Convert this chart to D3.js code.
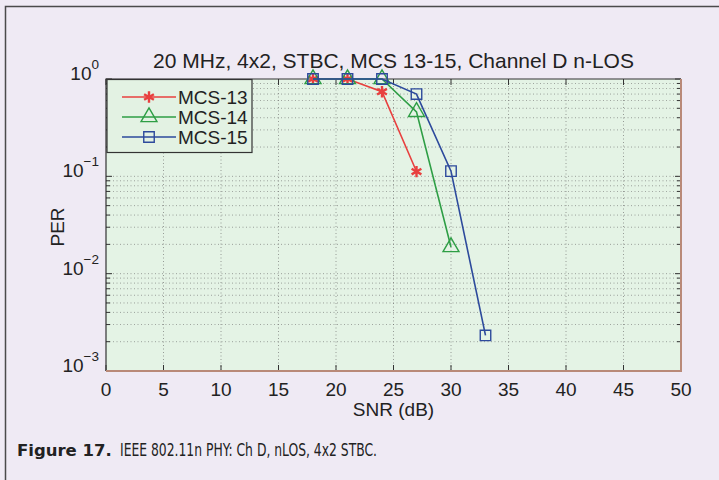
<!DOCTYPE html>
<html>
<head>
<meta charset="utf-8">
<script src="https://cdn.jsdelivr.net/npm/d3@7"></script>
<style>
  html, body { margin: 0; padding: 0; background: #efeaf4; }
  svg { display: block; }
</style>
</head>
<body>
<svg id="chart" width="719" height="480"></svg>
<script>
// SNR sweep points (dB) and packet error rate per MCS
const snr13 = [18, 21, 24, 27];
const per13 = [1.0, 1.0, 0.74, 0.112];
const snr14 = [18, 21, 24, 27, 30];
const per14 = [1.0, 1.0, 1.0, 0.46, 0.0188];
const snr15 = [18, 21, 24, 27, 30, 33];
const per15 = [1.0, 1.0, 1.0, 0.70, 0.113, 0.00232];

const seriesNames = ["MCS-13", "MCS-14", "MCS-15"];
const xTicks = [0, 5, 10, 15, 20, 25, 30, 35, 40, 45, 50];
const yTickExponents = [0, -1, -2, -3];
const titleText = "20 MHz, 4x2, STBC, MCS 13-15, Channel D n-LOS";
const xLabel = "SNR (dB)";
const yLabel = "PER";
const captionBold = "Figure 17.";
const captionRest = "IEEE 802.11n PHY: Ch D, nLOS, 4x2 STBC.";

const series = [
  { name: seriesNames[0], x: snr13, y: per13, color: "#e8403f", symbol: d3.symbolAsterisk },
  { name: seriesNames[1], x: snr14, y: per14, color: "#2e9e45", symbol: d3.symbolTriangle },
  { name: seriesNames[2], x: snr15, y: per15, color: "#2d4a9c", symbol: d3.symbolSquare }
];

const svg = d3.select("#chart");
const font = "'Liberation Sans', Arial, Helvetica, sans-serif";

// outer frame (top and left rules)
svg.append("path")
  .attr("d", "M5.5,480 V6.5 H719")
  .attr("fill", "none").attr("stroke", "#4a4a4a").attr("stroke-width", 1.5);

const plot = { left: 106, right: 681, top: 79, bottom: 371 };
const x = d3.scaleLinear().domain([0, 50]).range([plot.left, plot.right]);
const y = d3.scaleLog().domain([1e-3, 1]).range([plot.bottom, plot.top]);

// plot background
svg.append("rect")
  .attr("x", plot.left).attr("y", plot.top)
  .attr("width", plot.right - plot.left).attr("height", plot.bottom - plot.top)
  .attr("fill", "#e4f3e5");

const grid = svg.append("g");
// vertical grid at major x ticks
grid.selectAll("line.vx").data(xTicks.slice(1, -1)).join("line")
  .attr("x1", d => x(d)).attr("x2", d => x(d))
  .attr("y1", plot.top).attr("y2", plot.bottom)
  .attr("stroke", "#6a6a6a").attr("stroke-width", 0.8)
  .attr("stroke-dasharray", "1,2.5").attr("opacity", 0.8);

// horizontal grid: decades and minor log positions
const minorVals = [];
for (let e = -3; e < 0; e++) {
  for (let m = 2; m <= 9; m++) minorVals.push(m * Math.pow(10, e));
}
const majorVals = yTickExponents.map(e => Math.pow(10, e));
grid.selectAll("line.hy").data(minorVals.concat(majorVals.slice(1, -1))).join("line")
  .attr("x1", plot.left).attr("x2", plot.right)
  .attr("y1", d => y(d)).attr("y2", d => y(d))
  .attr("stroke", "#6a6a6a").attr("stroke-width", 0.8)
  .attr("stroke-dasharray", "1,2.5").attr("opacity", 0.75);

// tick marks (inside, on all four sides)
const ticks = svg.append("g").attr("stroke", "#333").attr("stroke-width", 1);
xTicks.forEach(t => {
  ticks.append("line").attr("x1", x(t)).attr("x2", x(t)).attr("y1", plot.bottom).attr("y2", plot.bottom - 6);
  ticks.append("line").attr("x1", x(t)).attr("x2", x(t)).attr("y1", plot.top).attr("y2", plot.top + 6);
});
majorVals.concat(minorVals).forEach(v => {
  const len = majorVals.includes(v) ? 6 : 4;
  ticks.append("line").attr("x1", plot.left).attr("x2", plot.left + len).attr("y1", y(v)).attr("y2", y(v));
  ticks.append("line").attr("x1", plot.right).attr("x2", plot.right - len).attr("y1", y(v)).attr("y2", y(v));
});

// plot border: dark top/left, warm-toned bottom/right
svg.append("path")
  .attr("d", `M${plot.left},${plot.bottom} V${plot.top} H${plot.right}`)
  .attr("fill", "none").attr("stroke", "#333").attr("stroke-width", 1.2);
svg.append("path")
  .attr("d", `M${plot.left},${plot.bottom} H${plot.right} V${plot.top}`)
  .attr("fill", "none").attr("stroke", "#b98a78").attr("stroke-width", 2);

// x tick labels
svg.append("g").selectAll("text").data(xTicks).join("text")
  .attr("x", d => x(d)).attr("y", plot.bottom + 25)
  .attr("text-anchor", "middle")
  .attr("font-family", font).attr("font-size", 19).attr("fill", "#222")
  .text(d => d);

// y tick labels as powers of ten
const yl = svg.append("g").selectAll("text").data(yTickExponents).join("text")
  .attr("x", 99).attr("y", d => y(Math.pow(10, d)) + 1)
  .attr("text-anchor", "end")
  .attr("font-family", font).attr("fill", "#222");
yl.append("tspan").attr("font-size", 19).text("10");
yl.append("tspan").attr("font-size", 13.5).attr("dy", -11)
  .text(d => d === 0 ? "0" : "\u2212" + Math.abs(d));

// title and axis labels
svg.append("text")
  .attr("x", (plot.left + plot.right) / 2).attr("y", 68)
  .attr("text-anchor", "middle").attr("font-family", font)
  .attr("font-size", 21).attr("fill", "#222").text(titleText);
svg.append("text")
  .attr("x", (plot.left + plot.right) / 2).attr("y", 416)
  .attr("text-anchor", "middle").attr("font-family", font)
  .attr("font-size", 19).attr("fill", "#222").text(xLabel);
svg.append("text")
  .attr("transform", `translate(64,${(plot.top + plot.bottom) / 2 + 2}) rotate(-90)`)
  .attr("text-anchor", "middle").attr("font-family", font)
  .attr("font-size", 19).attr("fill", "#222").text(yLabel);

// data lines and markers
const line = d3.line().x(d => x(d[0])).y(d => y(d[1]));
series.forEach(s => {
  const pts = s.x.map((v, i) => [v, s.y[i]]);
  const g = svg.append("g");
  g.append("path").attr("d", line(pts))
    .attr("fill", "none").attr("stroke", s.color).attr("stroke-width", 1.6);
  const isStar = s.symbol === d3.symbolAsterisk;
  g.selectAll("path.m").data(pts).join("path")
    .attr("transform", d => `translate(${x(d[0])},${y(d[1])})`)
    .attr("d", d3.symbol().type(s.symbol).size(isStar ? 90 : 110))
    .attr("fill", "none").attr("stroke", s.color)
    .attr("stroke-width", isStar ? 2.4 : 1.4);
});

// legend
const lg = svg.append("g");
lg.append("rect").attr("x", 107).attr("y", 79.5).attr("width", 145).attr("height", 73)
  .attr("fill", "#e3f2e3").attr("stroke", "#333").attr("stroke-width", 1.2);
const rowY = [97, 117, 137];
series.forEach((s, i) => {
  const ry = rowY[i];
  lg.append("line").attr("x1", 122).attr("x2", 176).attr("y1", ry).attr("y2", ry)
    .attr("stroke", s.color).attr("stroke-width", 1.6);
  const isStar = s.symbol === d3.symbolAsterisk;
  lg.append("path").attr("transform", `translate(149,${ry})`)
    .attr("d", d3.symbol().type(s.symbol).size(isStar ? 90 : 110))
    .attr("fill", "none").attr("stroke", s.color).attr("stroke-width", isStar ? 2.4 : 1.4);
  lg.append("text").attr("x", 178).attr("y", ry + 7)
    .attr("font-family", font).attr("font-size", 19).attr("fill", "#222").text(s.name);
});

// caption: bold figure number, then condensed description
const capFont = "'DejaVu Sans', sans-serif";
svg.append("text").attr("x", 17).attr("y", 456)
  .attr("font-family", capFont)
  .attr("font-weight", "bold").attr("font-size", 16.5).attr("fill", "#222")
  .text(captionBold);
svg.append("text").attr("x", 120).attr("y", 456)
  .attr("font-family", capFont).attr("font-stretch", "condensed")
  .attr("font-size", 18).attr("fill", "#222")
  .attr("textLength", 257).attr("lengthAdjust", "spacingAndGlyphs")
  .text(captionRest);
</script>
</body>
</html>
